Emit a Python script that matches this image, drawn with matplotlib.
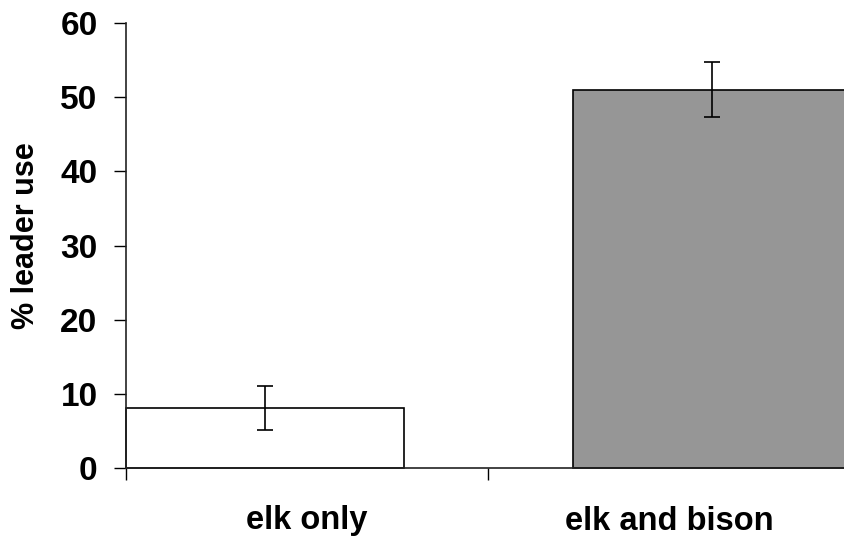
import matplotlib
matplotlib.use("Agg")
import matplotlib.pyplot as plt

categories = ["elk only", "elk and bison"]
values = [8.05, 51.0]
errors = [2.95, 3.7]
bar_colors = ["#ffffff", "#969696"]
yticks = [0, 10, 20, 30, 40, 50, 60]

plt.rcParams['font.family'] = ['Liberation Sans', 'DejaVu Sans']
plt.rcParams['font.weight'] = 'bold'

fig = plt.figure(figsize=(8.44, 5.39), dpi=100)
ax = fig.add_axes([126/844, 1-468/539, (850-126)/844, (468-23)/539])

centers = [0.384, 1.619]
width = 0.768
ax.bar(centers, values, width=width, color=bar_colors, edgecolor="black", linewidth=1.2,
       yerr=errors, error_kw=dict(ecolor="black", elinewidth=1.2, capsize=5.5, capthick=1.2),
       clip_on=False)

ax.set_xlim(0, 2)
ax.set_ylim(0, 60)
ax.set_yticks(yticks)
ax.set_yticklabels([str(t) for t in yticks], fontsize=24, fontweight='bold')
ax.tick_params(axis='y', direction='out', length=8.5, width=1.0, pad=12)

ax.set_xticks([0, 1, 2])
ax.set_xticklabels([])
ax.tick_params(axis='x', which='major', direction='out', length=8.5, width=1.0)
ax.set_xticks([0.5, 1.5], minor=True)
ax.set_xticklabels(categories, minor=True, fontsize=23.5, fontweight='bold')
ax.tick_params(axis='x', which='minor', length=0, pad=27)

ax.set_ylabel("% leader use", fontsize=22, fontweight='bold')
ax.yaxis.set_label_coords(-85/724, (468-235.5)/445)

for s in ['top', 'right']:
    ax.spines[s].set_visible(False)
for s in ['left', 'bottom']:
    ax.spines[s].set_linewidth(1.2)
    ax.spines[s].set_color('#222222')

fig.savefig("out.png", dpi=100)
